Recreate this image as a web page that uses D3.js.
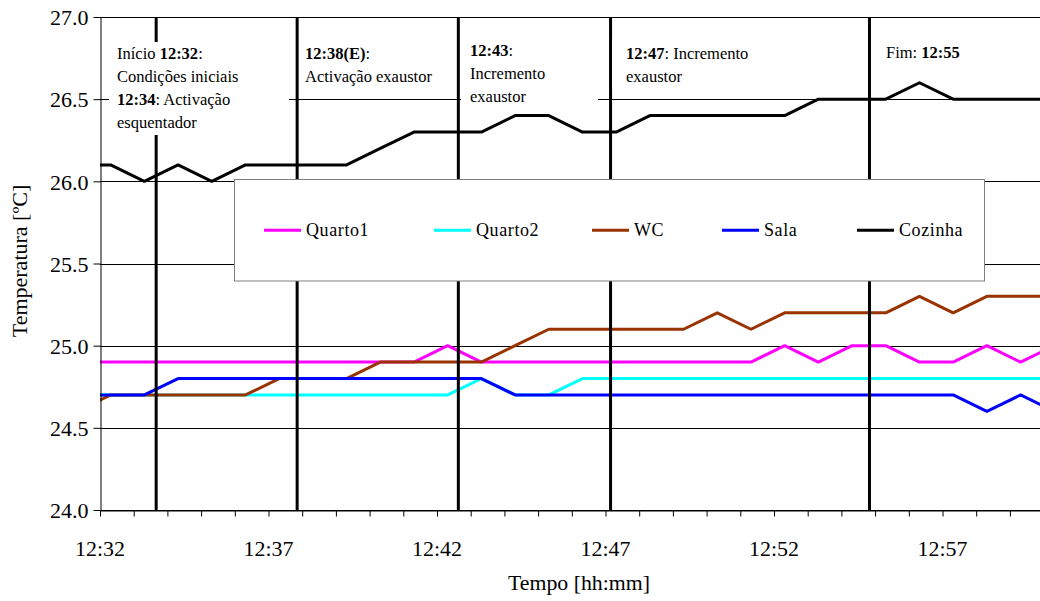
<!DOCTYPE html>
<html><head><meta charset="utf-8">
<script src="https://cdn.jsdelivr.net/npm/d3@7"></script>
<style>body{margin:0;background:#fff}svg{display:block}</style>
</head><body>
<script>
// ---------- DATA ----------
const times = ["12:31:19","12:32:19","12:33:19","12:34:19","12:35:19","12:36:19","12:37:19","12:38:19","12:39:19","12:40:19",
               "12:41:19","12:42:19","12:43:19","12:44:19","12:45:19","12:46:19","12:47:19","12:48:19","12:49:19","12:50:19",
               "12:51:19","12:52:19","12:53:19","12:54:19","12:55:19","12:56:19","12:57:19","12:58:19","12:59:19","13:00:19"];
const quarto1 = [24.9,24.9,24.9,24.9,24.9,24.9,24.9,24.9,24.9,24.9,24.9,25.0,24.9,24.9,24.9,24.9,24.9,24.9,24.9,24.9,24.9,25.0,24.9,25.0,25.0,24.9,24.9,25.0,24.9,25.0];
const quarto2 = [24.7,24.7,24.7,24.7,24.7,24.7,24.7,24.7,24.7,24.7,24.7,24.7,24.8,24.7,24.7,24.8,24.8,24.8,24.8,24.8,24.8,24.8,24.8,24.8,24.8,24.8,24.8,24.8,24.8,24.8];
const wc      = [24.6,24.7,24.7,24.7,24.7,24.7,24.8,24.8,24.8,24.9,24.9,24.9,24.9,25.0,25.1,25.1,25.1,25.1,25.1,25.2,25.1,25.2,25.2,25.2,25.2,25.3,25.2,25.3,25.3,25.3];
const sala    = [24.7,24.7,24.7,24.8,24.8,24.8,24.8,24.8,24.8,24.8,24.8,24.8,24.8,24.7,24.7,24.7,24.7,24.7,24.7,24.7,24.7,24.7,24.7,24.7,24.7,24.7,24.7,24.6,24.7,24.6];
const cozinha = [26.1,26.1,26.0,26.1,26.0,26.1,26.1,26.1,26.1,26.2,26.3,26.3,26.3,26.4,26.4,26.3,26.3,26.4,26.4,26.4,26.4,26.4,26.5,26.5,26.5,26.6,26.5,26.5,26.5,26.5];
const seriesNames = ["Quarto1","Quarto2","WC","Sala","Cozinha"];
const yTicks = [24.0,24.5,25.0,25.5,26.0,26.5,27.0];
const xTickLabels = ["12:32","12:37","12:42","12:47","12:52","12:57"];
const eventTimes = ["12:33:40","12:37:51","12:42:38","12:47:09","12:54:50"];
const yTitle = "Temperatura [ºC]";
const xTitle = "Tempo [hh:mm]";
const notes = [
  [[["Início ",0],["12:32",1],[":",0]],[["Condições iniciais",0]],[["12:34",1],[": Activação",0]],[["esquentador",0]]],
  [[["12:38(E)",1],[":",0]],[["Activação exaustor",0]]],
  [[["12:43",1],[":",0]],[["Incremento",0]],[["exaustor",0]]],
  [[["12:47",1],[": Incremento",0]],[["exaustor",0]]],
  [[["Fim: ",0],["12:55",1]]]
];

// ---------- STYLE / LAYOUT ----------
const colors = ["#FF00FF","#00FFFF","#993300","#0000FF","#000000"];
const FONT = "'Times New Roman', Times, 'Liberation Serif', Tinos, 'Noto Serif', 'DejaVu Serif', FreeSerif, serif";
const W = 1040, H = 601;
const pLeft = 100, pTop = 17, pBottom = 510, pxPerMin = 33.7, maxMin = 28;
const noteBoxes = [
  {x:109,y:42,w:180,h:93,tx:117,ty:59},
  {x:299,y:38,w:156,h:52,tx:305,ty:59},
  {x:461,y:36,w:137,h:70,tx:470,ty:56},
  {x:612,y:38,w:175,h:52,tx:626,ty:59},
  {x:873,y:38,w:110,h:30,tx:886,ty:58}
];
const legendBox = {x:234.5,y:179.5,w:750,h:101.5};
const legendX = [264,434,592,722,857];

function toMin(s){const p=s.split(":").map(Number);return p[0]*60+p[1]+(p[2]||0)/60-(12*60+32);}

const svg = d3.select("body").append("svg").attr("width",W).attr("height",H);

const x = d3.scaleLinear().domain([0,maxMin]).range([pLeft,pLeft+maxMin*pxPerMin]);
const y = d3.scaleLinear().domain([24,27]).range([pBottom,pTop]);

svg.append("defs").append("clipPath").attr("id","plot")
  .append("rect").attr("x",pLeft).attr("y",pTop-5).attr("width",x(maxMin)-pLeft).attr("height",pBottom-pTop+10);

// gridlines
svg.append("g").selectAll("line").data(yTicks).join("line")
  .attr("x1",pLeft).attr("x2",x(maxMin)).attr("y1",d=>Math.round(y(d))+0.5).attr("y2",d=>Math.round(y(d))+0.5)
  .attr("stroke","#000").attr("stroke-width",1);

// series
const allSeries = [quarto1,quarto2,wc,sala,cozinha];
const tm = times.map(toMin);
const line = d3.line().x((d,i)=>x(tm[i])).y(d=>y(d));
svg.append("g").attr("clip-path","url(#plot)").selectAll("path").data(allSeries).join("path")
  .attr("d",d=>line(d)).attr("fill","none").attr("stroke",(d,i)=>colors[i])
  .attr("stroke-width",3).attr("stroke-linejoin","round");

// event lines
svg.append("g").selectAll("line").data(eventTimes).join("line")
  .attr("x1",d=>x(toMin(d))).attr("x2",d=>x(toMin(d))).attr("y1",pTop).attr("y2",pBottom)
  .attr("stroke","#000").attr("stroke-width",3);

// annotations
const ng = svg.append("g");
notes.forEach((lines,i)=>{
  const b = noteBoxes[i];
  ng.append("rect").attr("x",b.x).attr("y",b.y).attr("width",b.w).attr("height",b.h).attr("fill","#fff");
  const t = ng.append("text").attr("font-size",16.5).attr("fill","#000");
  lines.forEach((segs,j)=>{
    segs.forEach((s,k)=>{
      const ts = t.append("tspan").text(s[0]).attr("font-weight",s[1]?"bold":"normal");
      if(k===0) ts.attr("x",b.tx).attr("y",b.ty+j*23);
    });
  });
});

// legend
const lg = svg.append("g");
lg.append("rect").attr("x",legendBox.x).attr("y",legendBox.y).attr("width",legendBox.w).attr("height",legendBox.h)
  .attr("fill","#fff").attr("stroke","#808080").attr("stroke-width",1);
seriesNames.forEach((n,i)=>{
  const ly = legendBox.y + legendBox.h/2;
  lg.append("line").attr("x1",legendX[i]).attr("x2",legendX[i]+37).attr("y1",ly).attr("y2",ly)
    .attr("stroke",colors[i]).attr("stroke-width",3);
  lg.append("text").attr("x",legendX[i]+42).attr("y",ly+6).attr("font-size",18).attr("letter-spacing",0.6).text(n);
});

// y axis
const ya = svg.append("g").attr("transform",`translate(${pLeft+0.5},0)`)
  .call(d3.axisLeft(y).tickValues(yTicks).tickFormat(d3.format(".1f")).tickSize(7).tickSizeOuter(0));
ya.select(".domain").attr("stroke","#000");
ya.selectAll("text").attr("font-size",22).attr("fill","#000").attr("x",-12).attr("dy","0.35em");

// x axis (minor ticks each minute)
const minuteTicks = d3.range(0,maxMin+1);
const xa = svg.append("g").attr("transform",`translate(0,${pBottom+0.5})`)
  .call(d3.axisBottom(x).tickValues(minuteTicks).tickFormat("").tickSize(6).tickSizeOuter(0));
xa.select(".domain").attr("stroke","#000");
svg.append("g").selectAll("text").data(xTickLabels).join("text")
  .attr("x",d=>x(toMin(d))).attr("y",556).attr("text-anchor","middle").attr("font-size",22)
  .attr("textLength",50).attr("lengthAdjust","spacingAndGlyphs").text(d=>d);

// titles
svg.append("text").attr("transform","translate(27,261) rotate(-90)").attr("text-anchor","middle")
  .attr("font-size",22).text(yTitle);
svg.append("text").attr("x",579).attr("y",590).attr("text-anchor","middle").attr("font-size",21)
  .attr("textLength",142).attr("lengthAdjust","spacingAndGlyphs").text(xTitle);

svg.selectAll("g").attr("font-family",null);
svg.selectAll("text").style("font-family",FONT);
</script>
</body></html>
